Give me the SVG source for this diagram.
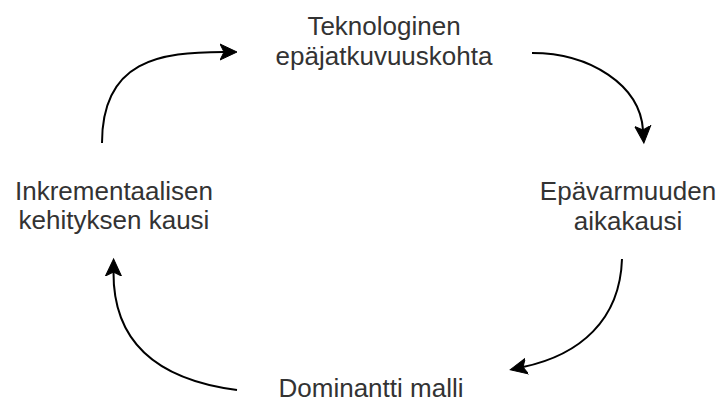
<svg xmlns="http://www.w3.org/2000/svg" width="723" height="403" viewBox="0 0 723 403">
  <style>
    .label { font-family: "Liberation Sans", Arial, sans-serif; font-size: 26px; fill: #333333; text-anchor: middle; }
    .edge { fill: none; stroke: #000000; stroke-width: 2; marker-end: url(#arrow); }
  </style>
  <defs>
    <marker id="arrow" markerUnits="userSpaceOnUse" markerWidth="20" markerHeight="20" viewBox="0 -10 20 20" refX="4" refY="0" orient="auto">
      <path d="M17,0 L0,-8 L4,0 L0,8 Z" fill="#000000" stroke="#000000" stroke-width="1" stroke-linejoin="miter"/>
    </marker>
  </defs>
  <rect width="723" height="403" fill="#ffffff"/>

  <g id="connectors">
    <path class="edge" d="M102,143 C102,60 160,52 224,52"/>
    <path class="edge" d="M532,53 C590,53 640,85 643,130"/>
    <path class="edge" d="M622,259 C620,320 580,355 523,367"/>
    <path class="edge" d="M237,390 C160,380 113,345 113.5,272"/>
  </g>

  <g id="node-discontinuity">
    <text class="label" x="384" y="35">Teknologinen</text>
    <text class="label" x="384" y="65">epäjatkuvuuskohta</text>
  </g>
  <g id="node-uncertainty">
    <text class="label" x="628" y="200">Epävarmuuden</text>
    <text class="label" x="628" y="230">aikakausi</text>
  </g>
  <g id="node-dominant">
    <text class="label" x="371" y="397">Dominantti malli</text>
  </g>
  <g id="node-incremental">
    <text class="label" x="114" y="200">Inkrementaalisen</text>
    <text class="label" x="114" y="229">kehityksen kausi</text>
  </g>
</svg>
